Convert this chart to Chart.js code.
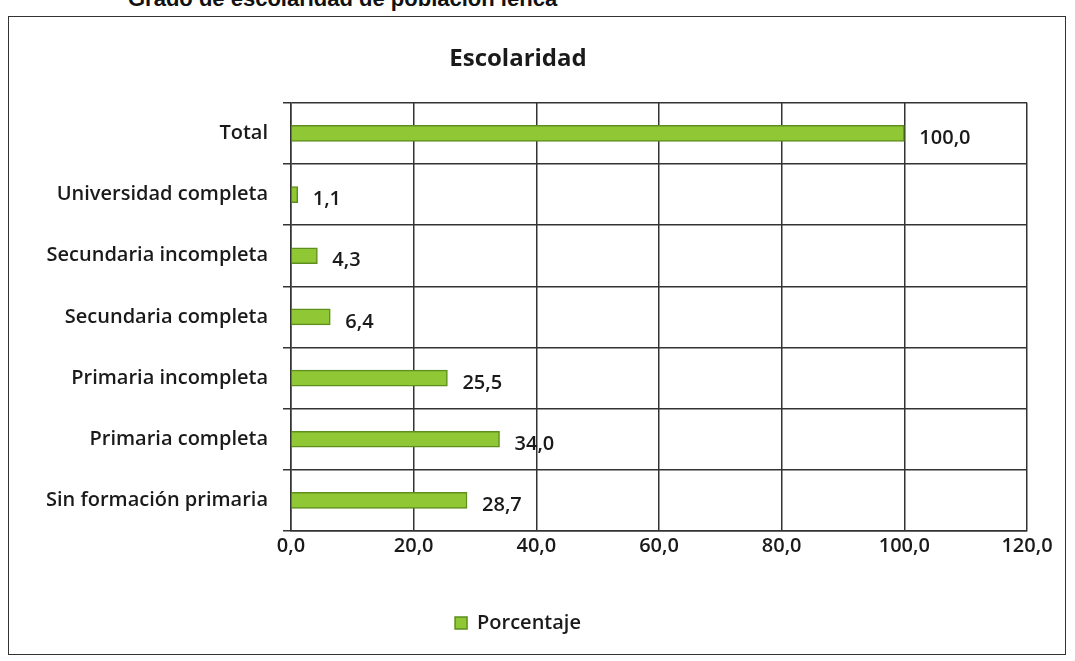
<!DOCTYPE html>
<html>
<head>
<meta charset="utf-8">
<script src="https://cdn.jsdelivr.net/npm/chart.js@4"></script>
<style>
  body { margin: 0; background: #fff; width: 1075px; height: 661px; overflow: hidden; position: relative; font-family: "Open Sans", sans-serif; }
  #caption { position: absolute; left: 128px; top: -14px; font: bold 22px "Liberation Sans", Arial, sans-serif; color: #111; white-space: nowrap; }
  #frame { position: absolute; left: 8px; top: 16px; width: 1056px; height: 637px; border: 1.5px solid #333; }
</style>
</head>
<body>
<div id="caption">Grado de escolaridad de población lenca</div>
<div id="frame"><canvas id="chart" width="1056" height="637"></canvas></div>
<script>
const categories = [
  'Total',
  'Universidad completa',
  'Secundaria incompleta',
  'Secundaria completa',
  'Primaria incompleta',
  'Primaria completa',
  'Sin formación primaria'
];
const porcentaje = [100.0, 1.1, 4.3, 6.4, 25.5, 34.0, 28.7];
const xTicks = [0, 20, 40, 60, 80, 100, 120];

const fmt = v => Number(v).toFixed(1).replace('.', ',');

// value labels to the right of each bar
const valueLabels = {
  id: 'valueLabels',
  afterDatasetsDraw(chart) {
    const ctx = chart.ctx;
    const meta = chart.getDatasetMeta(0);
    ctx.save();
    ctx.font = '600 20px "Open Sans", sans-serif';
    ctx.fillStyle = '#1a1a1a';
    ctx.textBaseline = 'middle';
    meta.data.forEach((bar, i) => {
      ctx.fillText(fmt(porcentaje[i]), bar.x + 15, bar.y + 5);
    });
    ctx.restore();
  }
};

new Chart(document.getElementById('chart'), {
  type: 'bar',
  data: {
    labels: categories,
    datasets: [{
      label: 'Porcentaje',
      data: porcentaje,
      backgroundColor: '#8fc735',
      borderColor: '#5e8f1c',
      borderWidth: 1.5,
      barThickness: 16
    }]
  },
  options: {
    indexAxis: 'y',
    responsive: false,
    animation: false,
    layout: { padding: { left: 0, right: 38, top: 0, bottom: 11 } },
    scales: {
      x: {
        min: 0,
        max: 120,
        afterBuildTicks: axis => { axis.ticks = xTicks.map(v => ({ value: v })); },
        grid: { color: '#333', lineWidth: 1.5, drawTicks: false },
        border: { color: '#333', width: 1.5 },
        ticks: {
          padding: 3,
          color: '#1a1a1a',
          font: { family: 'Open Sans', size: 20, weight: '600' },
          callback: v => fmt(v)
        },
        afterFit: axis => { axis.height = 74; }
      },
      y: {
        grid: { color: '#333', lineWidth: 1.5, offset: true, tickLength: 8 },
        border: { color: '#333', width: 1.5 },
        ticks: {
          padding: 15,
          color: '#1a1a1a',
          font: { family: 'Open Sans', size: 20, weight: '600' }
        },
        afterFit: axis => { axis.width = 282; }
      }
    },
    plugins: {
      title: {
        display: true,
        text: 'Escolaridad',
        color: '#1a1a1a',
        font: { family: 'Open Sans', size: 24, weight: 'bold' },
        padding: { top: 28, bottom: 29 }
      },
      legend: {
        position: 'bottom',
        labels: {
          color: '#1a1a1a',
          font: { family: 'Open Sans', size: 20, weight: '600' },
          boxWidth: 12,
          boxHeight: 12,
          padding: 8
        }
      },
      tooltip: { enabled: false }
    }
  },
  plugins: [valueLabels]
});
</script>
</body>
</html>
